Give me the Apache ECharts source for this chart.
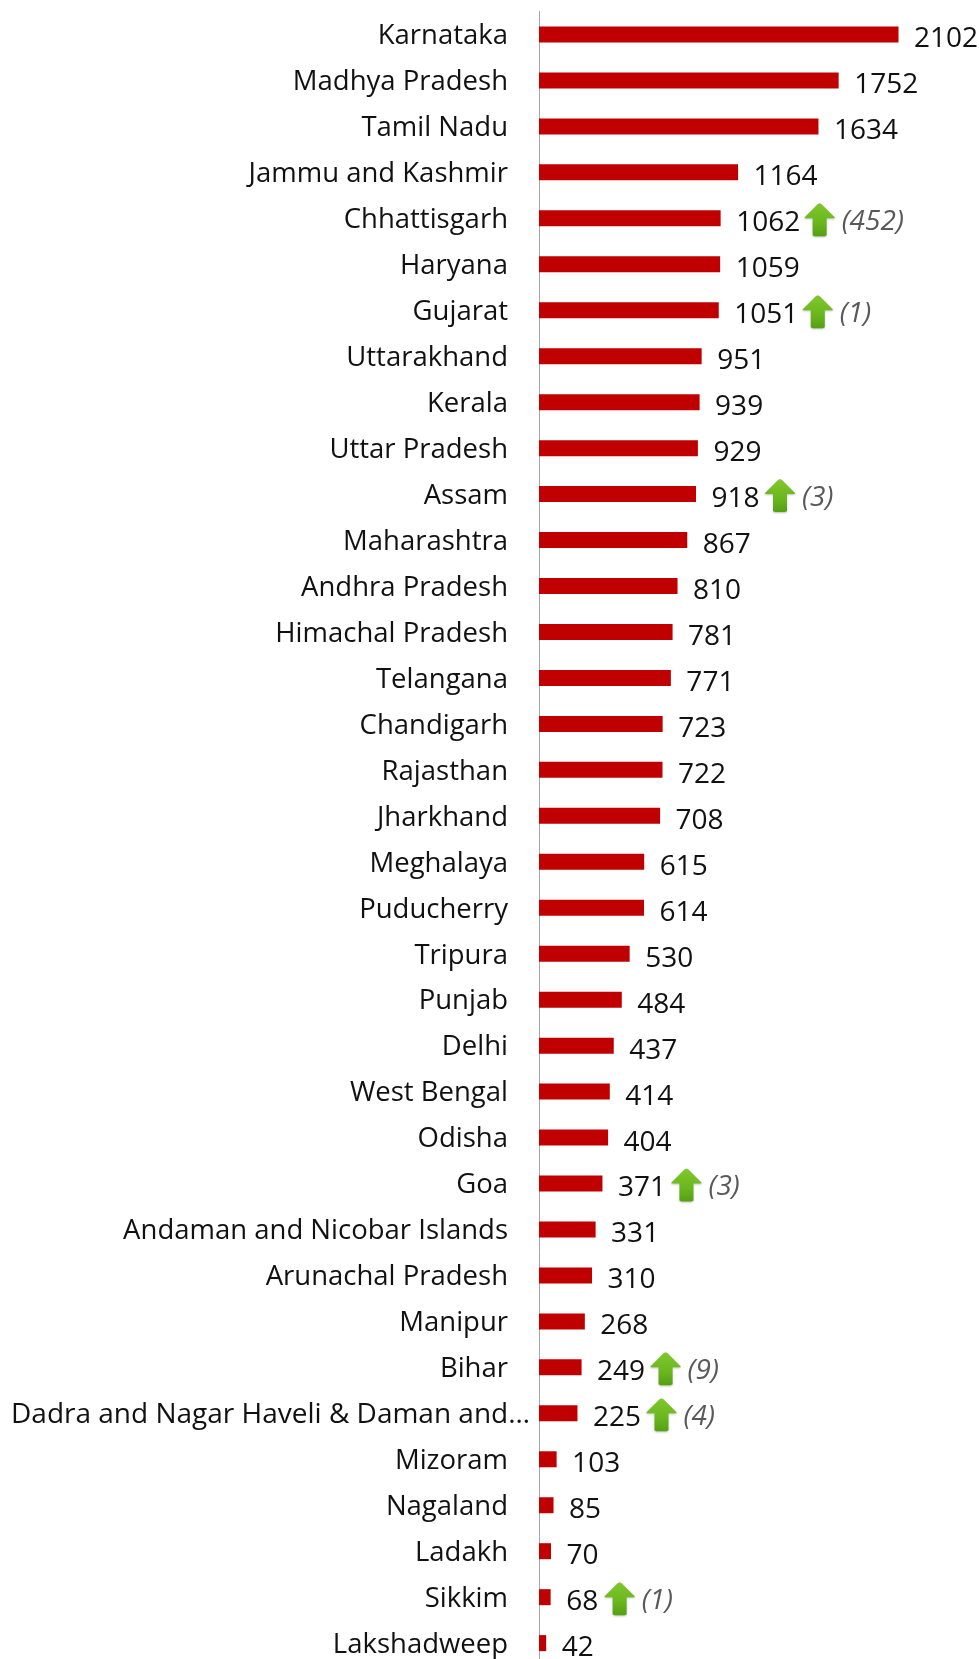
<!DOCTYPE html>
<html><head><meta charset="utf-8">
<style>html,body{margin:0;padding:0;background:#fff;height:1659px;overflow:hidden}#c{width:979px;height:1667px}</style>
<script src="https://cdn.jsdelivr.net/npm/echarts@6/dist/echarts.min.js"></script>
</head><body><div id="c"></div>
<script>
const categories = ["Karnataka","Madhya Pradesh","Tamil Nadu","Jammu and Kashmir","Chhattisgarh","Haryana","Gujarat","Uttarakhand","Kerala","Uttar Pradesh","Assam","Maharashtra","Andhra Pradesh","Himachal Pradesh","Telangana","Chandigarh","Rajasthan","Jharkhand","Meghalaya","Puducherry","Tripura","Punjab","Delhi","West Bengal","Odisha","Goa","Andaman and Nicobar Islands","Arunachal Pradesh","Manipur","Bihar","Dadra and Nagar Haveli & Daman and…","Mizoram","Nagaland","Ladakh","Sikkim","Lakshadweep"];
const values = [2102,1752,1634,1164,1062,1059,1051,951,939,929,918,867,810,781,771,723,722,708,615,614,530,484,437,414,404,371,331,310,268,249,225,103,85,70,68,42];
const risers = ["Chhattisgarh","Gujarat","Assam","Goa","Bihar","Dadra and Nagar Haveli & Daman and…","Sikkim"];
const riserChanges = [452,1,3,3,9,4,1];

const FONT = '"Open Sans", sans-serif';
const chart = echarts.init(document.getElementById('c'), null, {renderer:'canvas'});
const arrowData = risers.map((name,i)=>{
  const idx = categories.indexOf(name);
  return [values[idx], idx, riserChanges[i]];
});
chart.setOption({
  animation:false,
  backgroundColor:'#fff',
  grid:{left:539,right:12.4,top:11.5,bottom:0.9,containLabel:false},
  xAxis:{type:'value',min:0,max:2500,show:false},
  yAxis:{
    type:'category',inverse:true,
    data:categories,
    axisLine:{show:true,lineStyle:{color:'#a6a6a6',width:1}},
    axisTick:{show:false},
    axisLabel:{margin:9,interval:0,align:'right',verticalAlign:'middle',
      formatter:v=>v.length>30?'{l|'+v+'}':'{s|'+v+'}',
      rich:{
        s:{fontFamily:FONT,fontSize:27.5,color:'#111',padding:[4,22,0,0]},
        l:{fontFamily:FONT,fontSize:28,color:'#111',padding:[4,0,0,0]}
      }}
  },
  series:[
    {type:'bar',data:values,barWidth:16,itemStyle:{color:'#c00000'},
     label:{show:true,position:'right',distance:15.5,offset:[0,5],fontFamily:FONT,fontSize:28,color:'#111'}},
    {type:'custom',data:arrowData,clip:false,encode:{x:0,y:1},z:5,
     renderItem(params,api){
       const v=api.value(0), p=api.coord([v,api.value(1)]);
       const digits=String(v).length;
       const cx=p[0]+17+digits*15+22, top=p[1]-15, h=33;
       return {type:'group',children:[
         {type:'polygon',shape:{points:[[cx-2,top+1],[cx,top],[cx+2,top+1],[cx+15,top+14],[cx+15,top+15],[cx+7,top+15],[cx+7,top+h-1],[cx+5,top+h],[cx-5,top+h],[cx-7,top+h-1],[cx-7,top+15],[cx-15,top+15],[cx-15,top+14]]},
          style:{fill:new echarts.graphic.LinearGradient(0,0,0,1,[{offset:0,color:'#80c82c'},{offset:0.6,color:'#6ab61e'},{offset:1,color:'#559f12'}]),shadowColor:'rgba(0,0,0,0.25)',shadowBlur:2,shadowOffsetY:1}},
         {type:'text',style:{x:cx+22,y:p[1]+4,text:'('+api.value(2)+')',font:'italic 28px '+FONT,fill:'#595959',textAlign:'left',textVerticalAlign:'middle'}}
       ]};
     }}
  ]
});
</script></body></html>
